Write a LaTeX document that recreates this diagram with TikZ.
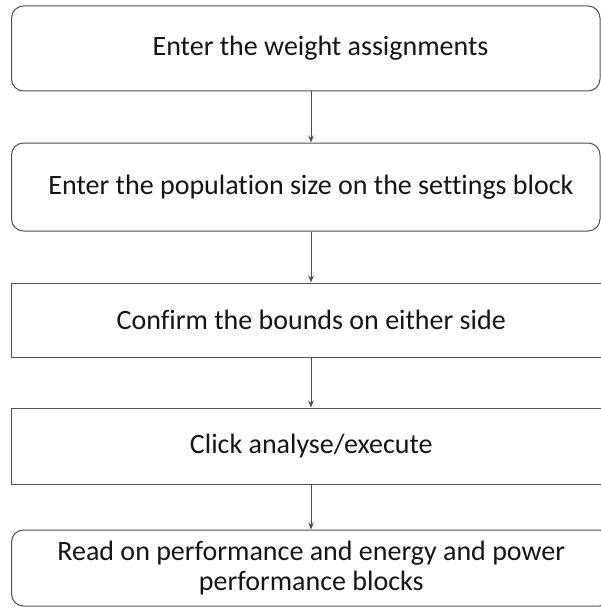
\documentclass[tikz,border=0pt]{standalone}
\usepackage{fontspec}
\setmainfont{Carlito}[Ligatures=NoCommon]
\usetikzlibrary{arrows.meta}
\begin{document}
\begin{tikzpicture}[x=1pt,y=1pt,
  stepbox/.style={draw=black!68, line width=1pt, inner sep=0pt, align=center,
    font=\fontsize{28}{30}\selectfont, text=black!92},
  roundbox/.style={stepbox, rounded corners=12pt},
  arr/.style={draw=black!70, line width=0.9pt, -{Stealth[length=7pt,width=5.5pt]}}]
\clip (0,0) rectangle (601,-607);
\node[roundbox, minimum width=588.5pt, minimum height=85pt] (b1) at (305.75,-48.5)
  {\hspace*{29.5pt}Enter the weight assignments};
\node[roundbox, minimum width=588.5pt, minimum height=88pt] (b2) at (305.75,-187)
  {\hspace*{10.5pt}Enter the population size on the settings block};
\node[stepbox, minimum width=599.5pt, minimum height=74pt] (b3) at (311.25,-320)
  {Confirm the bounds on either side};
\node[stepbox, minimum width=599.5pt, minimum height=76pt] (b4) at (311.25,-446)
  {Click analyse/execute};
\node[roundbox, minimum width=599.5pt, minimum height=76pt] (b5) at (311.25,-568)
  {Read on performance and energy and power\\performance blocks};
\coordinate (ax) at (311,0);
\draw[arr] (b1.south -| ax) -- (b2.north -| ax);
\draw[arr] (b2.south -| ax) -- (b3.north -| ax);
\draw[arr] (b3.south -| ax) -- (b4.north -| ax);
\draw[arr] (b4.south -| ax) -- (b5.north -| ax);
\end{tikzpicture}
\end{document}
